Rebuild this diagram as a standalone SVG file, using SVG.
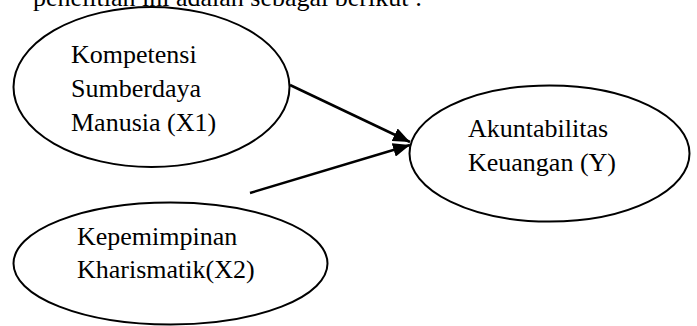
<svg xmlns="http://www.w3.org/2000/svg" width="697" height="326" viewBox="0 0 697 326">
<style>
.node{fill:#fff;stroke:#000;stroke-width:2}
.t{font-family:"Liberation Serif","Times New Roman",serif;font-size:26px;fill:#000}
.top{font-family:"Liberation Serif","Times New Roman",serif;font-size:26px;fill:#000}
.edge{stroke:#000;stroke-width:2.5;fill:none}
</style>
<defs>
<marker id="ah" markerUnits="userSpaceOnUse" markerWidth="18" markerHeight="14" refX="17" refY="7" orient="auto">
<path d="M0,0 L17,7 L0,14 z" fill="#000"/>
</marker>
</defs>
<rect width="697" height="326" fill="#fff"/>
<text class="top" x="33" y="6">penelitian ini adalah sebagai berikut :</text>
<g id="x1">
<ellipse class="node" cx="151.5" cy="87" rx="138" ry="80"/>
<text class="t" x="71" y="63">Kompetensi</text>
<text class="t" x="71" y="97">Sumberdaya</text>
<text class="t" x="71" y="131">Manusia (X1)</text>
</g>
<g id="x2">
<ellipse class="node" cx="170.5" cy="263.5" rx="157" ry="61"/>
<text class="t" x="77" y="245">Kepemimpinan</text>
<text class="t" x="77" y="278">Kharismatik(X2)</text>
</g>
<g id="y">
<ellipse class="node" cx="549.5" cy="153.5" rx="140" ry="68"/>
<text class="t" x="468" y="137">Akuntabilitas</text>
<text class="t" x="468" y="171">Keuangan (Y)</text>
</g>
<g id="connectors">
<line class="edge" x1="290" y1="85" x2="410" y2="142" marker-end="url(#ah)"/>
<line class="edge" x1="250" y1="193" x2="410" y2="145" marker-end="url(#ah)"/>
</g>
</svg>
